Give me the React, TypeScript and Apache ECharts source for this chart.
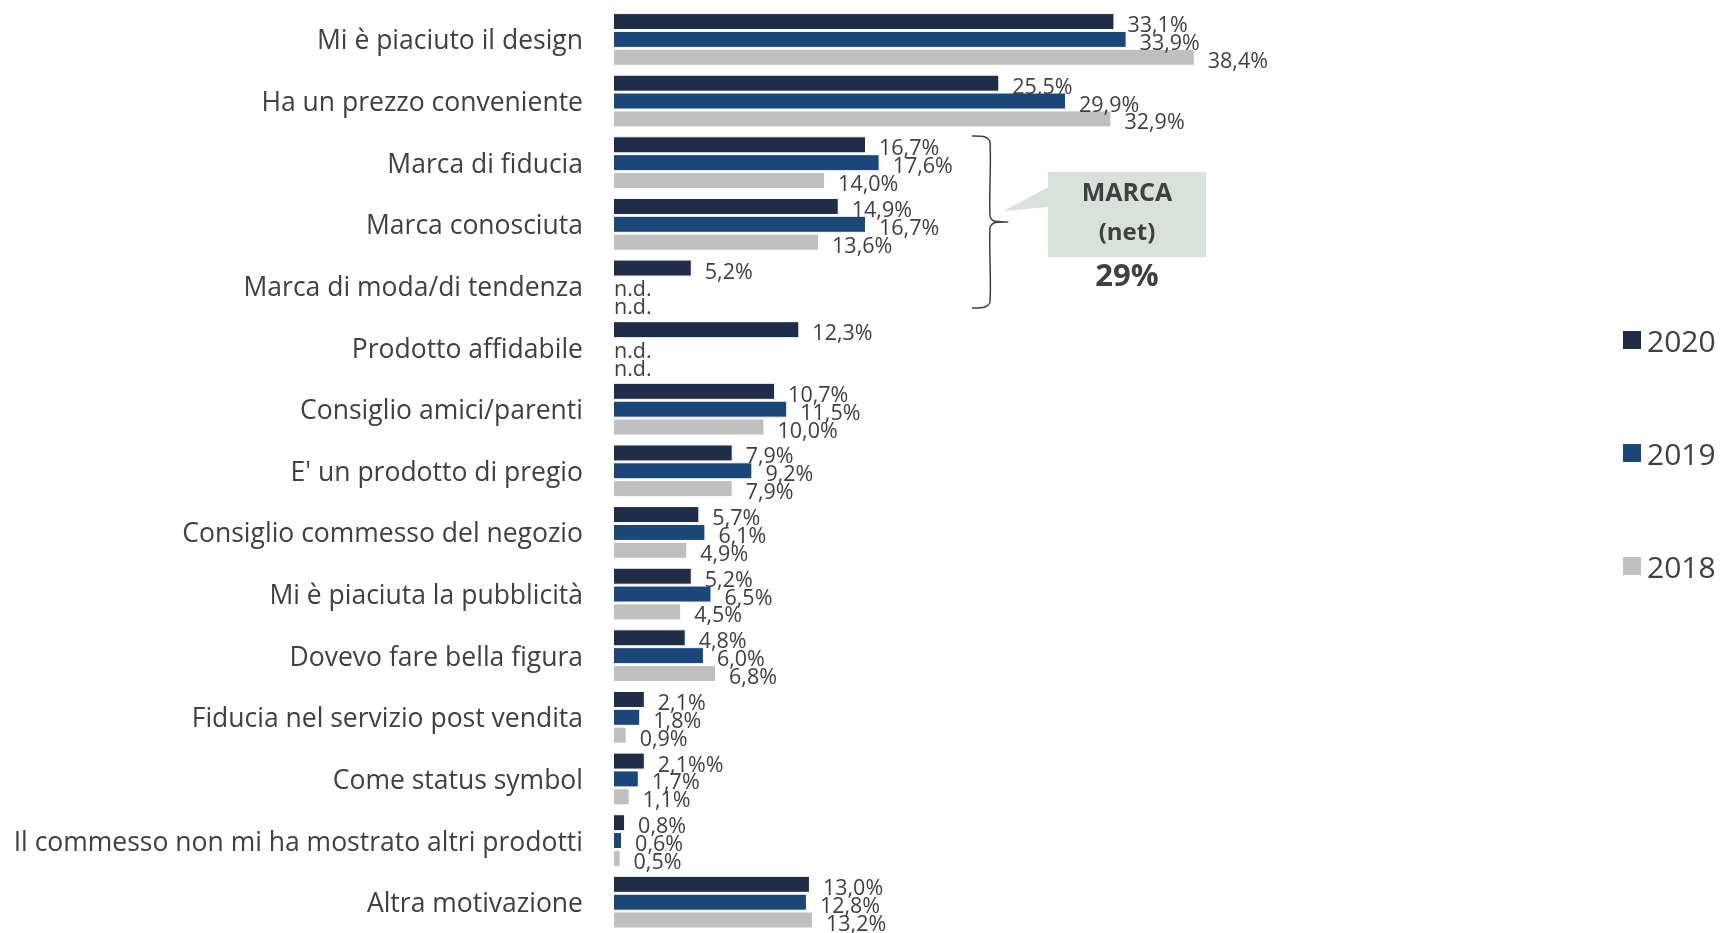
import React, { useEffect, useRef } from "react";
import * as echarts from "echarts";

const categories = [
  "Mi è piaciuto il design",
  "Ha un prezzo conveniente",
  "Marca di fiducia",
  "Marca conosciuta",
  "Marca di moda/di tendenza",
  "Prodotto affidabile",
  "Consiglio amici/parenti",
  "E' un prodotto di pregio",
  "Consiglio commesso del negozio",
  "Mi è piaciuta la pubblicità",
  "Dovevo fare bella figura",
  "Fiducia nel servizio post vendita",
  "Come status symbol",
  "Il commesso non mi ha mostrato altri prodotti",
  "Altra motivazione",
];

const values2020 = [33.1, 25.5, 16.7, 14.9, 5.2, 12.3, 10.7, 7.9, 5.7, 5.2, 4.8, 2.1, 2.1, 0.8, 13.0];
const values2019 = [33.9, 29.9, 17.6, 16.7, null, null, 11.5, 9.2, 6.1, 6.5, 6.0, 1.8, 1.7, 0.6, 12.8];
const values2018 = [38.4, 32.9, 14.0, 13.6, null, null, 10.0, 7.9, 4.9, 4.5, 6.8, 0.9, 1.1, 0.5, 13.2];

// label text as printed in the original (one typo kept)
const labelOverrides2020: Record<number, string> = { 12: "2,1%%" };

const seriesNames = ["2020", "2019", "2018"];
const seriesColors = ["#1F2D48", "#1A4678", "#BFBFBF"];

const netLabel = "MARCA";
const netSub = "(net)";
const netValue = "29%";

const TEXT = "#404040";
const FONT = "'Open Sans', 'Noto Sans', sans-serif";

function fmt(v: number) {
  return v.toFixed(1).replace(".", ",") + "%";
}

function buildData(vals: (number | null)[], overrides: Record<number, string> = {}) {
  return vals.map((v, i) => {
    if (v === null) {
      return {
        value: 0,
        itemStyle: { borderWidth: 0 },
        label: { formatter: "n.d.", distance: 1 },
      };
    }
    return {
      value: v,
      label: { formatter: overrides[i] ?? fmt(v) },
    };
  });
}

export default function App() {
  const ref = useRef<HTMLDivElement>(null);

  useEffect(() => {
    if (!ref.current) return;
    const chart = echarts.init(ref.current, null, { renderer: "svg" });
    const datasets = [buildData(values2020, labelOverrides2020), buildData(values2019), buildData(values2018)];

    const option: any = {
      animation: false,
      textStyle: { fontFamily: FONT },
      legend: {
        orient: "vertical",
        left: 1616,
        top: 320,
        icon: "rect",
        itemWidth: 20,
        itemHeight: 20,
        itemGap: 83,
        selectedMode: false,
        data: seriesNames,
        textStyle: { fontSize: 30, color: TEXT, fontFamily: FONT },
      },
      grid: { left: 613, top: 8.6, width: 606, height: 926 },
      xAxis: {
        type: "value",
        min: 0,
        max: 40,
        show: false,
      },
      yAxis: {
        type: "category",
        data: categories,
        inverse: true,
        axisLine: { show: false },
        axisTick: { show: false },
        splitLine: { show: false },
        axisLabel: {
          margin: 30,
          fontSize: 26.5,
          color: TEXT,
          fontFamily: FONT,
        },
      },
      series: seriesNames.map((name, si) => ({
        name,
        type: "bar",
        data: datasets[si],
        barWidth: 17,
        barGap: "5%",
        barCategoryGap: "16%",
        itemStyle: { color: seriesColors[si], borderColor: "#ffffff", borderWidth: 1 },
        label: {
          show: true,
          position: "right",
          distance: 13,
          offset: [0, 2],
          fontSize: 21.5,
          color: TEXT,
          fontFamily: FONT,
        },
      })),
      graphic: [
        // brace
        {
          type: "polyline",
          shape: {
            points: [
              [972, 136],
              [985, 137],
              [990, 142],
              [990, 216],
              [994, 221],
              [1008, 222],
              [994, 223],
              [990, 228],
              [990, 302],
              [985, 307],
              [972, 308],
            ],
            smooth: 0.3,
          },
          style: { stroke: TEXT, lineWidth: 1.5, fill: null },
          silent: true,
        },
        // callout pointer
        {
          type: "polygon",
          shape: { points: [[1049, 187], [1003, 211], [1049, 207]] },
          style: { fill: "#D9E2DA" },
          silent: true,
        },
        {
          type: "rect",
          shape: { x: 1048, y: 172, width: 158, height: 85 },
          style: { fill: "#D9E2DA" },
          silent: true,
        },
        {
          type: "text",
          style: {
            x: 1127,
            y: 191,
            text: netLabel,
            fontSize: 25,
            fontWeight: "bold",
            fontFamily: FONT,
            fill: TEXT,
            align: "center",
            verticalAlign: "middle",
          },
          silent: true,
        },
        {
          type: "text",
          style: {
            x: 1127,
            y: 230,
            text: netSub,
            fontSize: 24,
            fontWeight: "bold",
            fontFamily: FONT,
            fill: TEXT,
            align: "center",
            verticalAlign: "middle",
          },
          silent: true,
        },
        {
          type: "text",
          style: {
            x: 1127,
            y: 274,
            text: netValue,
            fontSize: 31,
            fontWeight: "bold",
            fontFamily: FONT,
            fill: TEXT,
            align: "center",
            verticalAlign: "middle",
          },
          silent: true,
        },
      ],
    };

    chart.setOption(option);
    return () => chart.dispose();
  }, []);

  return (
    <div
      ref={ref}
      style={{ position: "fixed", left: 0, top: 0, width: 1720, height: 933 }}
    />
  );
}
